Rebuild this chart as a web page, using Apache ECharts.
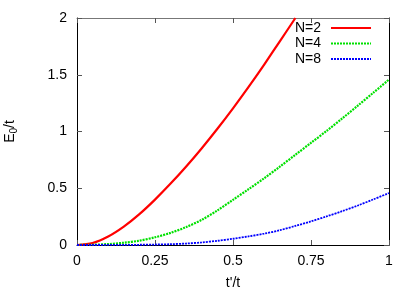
<!DOCTYPE html>
<html>
<head>
<meta charset="utf-8">
<script src="https://cdn.jsdelivr.net/npm/echarts@6/dist/echarts.min.js"></script>
<style>html,body{margin:0;padding:0;background:#fff}#c{width:415px;height:291px}</style>
</head>
<body>
<div id="c"></div>
<script>
const xValues = [0, 0.05, 0.1, 0.15, 0.2, 0.25, 0.3, 0.35, 0.4, 0.45, 0.5, 0.55, 0.6, 0.65, 0.7, 0.75, 0.8, 0.85, 0.9, 0.95, 1.0];
const seriesNames = ['N=2', 'N=4', 'N=8'];
const n2 = [0, 0.018, 0.075, 0.162, 0.272, 0.40, 0.541, 0.692, 0.853, 1.024, 1.204, 1.393, 1.59, 1.794, 2.0];
const n4 = [0, 0.002, 0.008, 0.02, 0.038, 0.068, 0.107, 0.158, 0.222, 0.305, 0.398, 0.492, 0.588, 0.69, 0.795, 0.90, 1.005, 1.115, 1.228, 1.342, 1.458];
const n8 = [0, 0, 0.0005, 0.001, 0.002, 0.004, 0.007, 0.013, 0.023, 0.037, 0.055, 0.076, 0.1, 0.13, 0.168, 0.208, 0.252, 0.298, 0.348, 0.402, 0.458];
const xTicks = [0, 0.25, 0.5, 0.75, 1];
const yTicks = [0, 0.5, 1, 1.5, 2];

const pair = (ys) => ys.map((y, i) => [xValues[i], y]);
const font = 'Liberation Sans, Arial, sans-serif';
const chart = echarts.init(document.getElementById('c'), null, {renderer: 'canvas'});
const tick = {show: true, inside: true, length: 5, lineStyle: {color: '#555', width: 1}};
chart.setOption({
  animation: false,
  backgroundColor: '#fff',
  grid: {left: 77, right: 26, top: 18, bottom: 46, containLabel: false, outerBoundsMode: 'none'},
  legend: {
    orient: 'vertical', right: 43, top: 21, align: 'right', padding: 0,
    itemWidth: 40, itemHeight: 14, itemGap: 1.5,
    itemStyle: {opacity: 0},
    textStyle: {fontFamily: font, fontSize: 14, color: '#000', padding: [0, 5, 0, 0]},
    data: seriesNames
  },
  xAxis: [{
    type: 'value', min: 0, max: 1, interval: 0.25,
    name: "t'/t", nameLocation: 'middle', nameGap: 31,
    nameTextStyle: {fontFamily: font, fontSize: 14, color: '#000'},
    axisLine: {show: true, onZero: false, lineStyle: {color: '#000', width: 1}},
    axisTick: tick, splitLine: {show: false},
    axisLabel: {fontFamily: font, fontSize: 14, color: '#000', margin: 9,
      formatter: v => xTicks.includes(v) ? String(v) : ''}
  }, {
    type: 'value', min: 0, max: 1, interval: 0.25, position: 'top',
    axisLine: {show: true, onZero: false, lineStyle: {color: '#777', width: 1}},
    axisTick: tick, axisLabel: {show: false}, splitLine: {show: false}
  }],
  yAxis: [{
    type: 'value', min: 0, max: 2, interval: 0.5,
    name: '{a|E}{s|0}{a|/t}', nameLocation: 'middle', nameGap: 58, nameRotate: 90,
    nameTextStyle: {fontFamily: font, fontSize: 14, color: '#000',
      rich: {a: {fontFamily: font, fontSize: 14, color: '#000'},
             s: {fontFamily: font, fontSize: 10, color: '#000', verticalAlign: 'bottom', padding: [8, 0, 0, 0]}}},
    axisLine: {show: true, onZero: false, lineStyle: {color: '#000', width: 1}},
    axisTick: tick, splitLine: {show: false},
    axisLabel: {fontFamily: font, fontSize: 14, color: '#000', margin: 10,
      formatter: v => yTicks.includes(v) ? String(v) : ''}
  }, {
    type: 'value', min: 0, max: 2, interval: 0.5, position: 'right',
    axisLine: {show: true, onZero: false, lineStyle: {color: '#000', width: 1}},
    axisTick: tick, axisLabel: {show: false}, splitLine: {show: false}
  }],
  series: [
    {name: seriesNames[0], type: 'line', data: pair(n2), showSymbol: false, symbol: 'none', smooth: 0.3, clip: true,
     lineStyle: {color: '#ff0000', width: 2.2, type: 'solid'}, itemStyle: {color: '#ff0000'}},
    {name: seriesNames[1], type: 'line', data: pair(n4), showSymbol: false, symbol: 'none', smooth: 0.3, clip: true,
     lineStyle: {color: '#00e000', width: 2.2, type: [2, 1]}, itemStyle: {color: '#00e000'}},
    {name: seriesNames[2], type: 'line', data: pair(n8), showSymbol: false, symbol: 'none', smooth: 0.3, clip: true,
     lineStyle: {color: '#0000ff', width: 1.8, type: [2, 1]}, itemStyle: {color: '#0000ff'}}
  ]
});
</script>
</body>
</html>
